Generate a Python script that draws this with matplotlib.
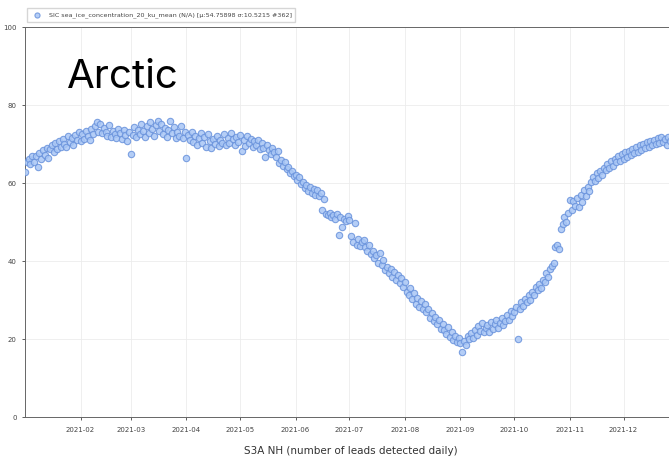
import numpy as np
import pandas as pd
import matplotlib
matplotlib.use("Agg")
import matplotlib.pyplot as plt
import matplotlib.dates as mdates

# daily mean sea ice concentration, one list per month
jan = [62.8, 65.5, 66.2, 64.8, 67.0, 65.3, 66.9, 64.2, 67.8, 66.1, 68.4, 67.2, 69.0, 66.5, 68.7, 69.8,
       67.9, 70.2, 68.8, 70.9, 69.4, 71.3, 70.1, 69.2, 72.0, 70.6, 71.5, 69.9, 72.4, 71.1, 73.2]
feb = [70.8, 72.6, 71.4, 73.5, 72.2, 71.0, 73.8, 72.5, 74.6, 75.6, 73.1, 75.2, 72.8, 74.2, 73.0, 72.1,
       74.8, 71.9, 73.4, 72.6, 71.7, 74.0, 72.9, 71.3, 73.6, 72.4, 70.9, 73.0]
mar = [67.5, 72.3, 74.4, 71.8, 73.6, 72.7, 75.1, 73.3, 71.9, 74.6, 72.8, 75.7, 73.8, 72.2, 74.9, 76.0,
       73.4, 75.3, 72.6, 74.1, 71.8, 73.7, 75.9, 72.9, 74.3, 71.5, 73.2, 72.0, 74.7, 71.6, 73.0]
apr = [66.5, 72.4, 71.2, 73.1, 70.6, 72.0, 69.8, 71.5, 72.8, 70.3, 71.9, 69.4, 72.5, 70.8, 68.9, 71.4,
       70.1, 72.2, 69.6, 71.0, 70.4, 72.6, 69.9, 71.7, 70.2, 72.9, 71.3, 69.7, 71.8, 70.5]
may = [72.3, 68.2, 71.0, 69.6, 72.1, 70.4, 71.4, 69.3, 70.8, 69.9, 71.2, 68.7, 70.3, 69.1, 66.7, 69.8,
       68.4, 67.5, 69.0, 67.9, 66.8, 68.3, 65.2, 66.0, 64.4, 65.3, 63.6, 64.1, 62.7, 63.2, 61.8]
jun = [62.2, 60.8, 61.5, 59.9, 60.4, 58.8, 59.5, 57.9, 59.0, 57.6, 58.5, 56.9, 58.2, 56.8, 57.4, 53.0,
       56.0, 52.2, 51.8, 52.3, 51.2, 51.9, 50.7, 52.1, 46.7, 51.4, 48.7, 50.9, 50.3, 51.6]
jul = [50.6, 46.4, 45.0, 49.8, 44.2, 45.6, 43.9, 44.8, 45.3, 43.5, 42.7, 44.1, 41.9, 42.6, 40.8, 41.5,
       39.6, 42.0, 38.9, 40.3, 37.8, 38.6, 36.9, 37.9, 35.8, 37.2, 35.1, 36.4, 34.3, 35.6, 33.4]
aug = [34.6, 32.0, 31.2, 33.1, 30.4, 31.7, 29.1, 30.6, 28.3, 29.7, 27.6, 28.9, 26.9, 27.8, 25.4, 26.7,
       24.6, 25.7, 23.8, 24.9, 22.7, 23.9, 22.2, 21.4, 23.1, 20.6, 21.8, 19.8, 20.9, 19.3, 20.3]
sep = [18.9, 16.6, 19.6, 18.4, 20.8, 19.9, 21.5, 20.3, 22.4, 21.1, 23.3, 22.0, 24.0, 21.7, 22.8, 23.6,
       21.9, 24.4, 22.6, 23.8, 24.9, 22.9, 24.2, 25.3, 23.5, 24.7, 26.1, 25.0, 27.3, 25.8]
oct_ = [26.9, 28.2, 19.9, 27.7, 29.4, 28.6, 30.3, 29.5, 31.2, 30.0, 32.1, 31.4, 33.3, 32.5, 34.0, 33.1,
        35.2, 34.6, 36.9, 35.8, 37.9, 38.8, 39.4, 43.6, 44.1, 43.0, 48.2, 49.6, 51.3, 50.1, 52.4]
nov = [55.6, 53.2, 55.4, 54.1, 56.2, 53.8, 57.0, 55.1, 58.2, 56.7, 59.1, 57.9, 60.3, 61.6, 60.6, 62.5,
       61.3, 63.2, 62.2, 64.0, 63.3, 64.9, 63.8, 65.6, 64.5, 66.2, 65.3, 66.9, 65.8, 67.4]
dec = [66.3, 67.9, 66.8, 68.3, 67.2, 68.8, 67.7, 69.2, 68.1, 69.7, 68.6, 70.1, 68.9, 70.5, 69.4, 70.8,
       69.7, 71.2, 70.0, 71.5, 70.3, 71.8, 70.6, 71.3, 69.9, 71.9, 70.7, 71.1]

sic = jan + feb + mar + apr + may + jun + jul + aug + sep + oct_ + nov + dec
days = pd.date_range("2021-01-01", periods=len(sic), freq="D")

label = "SIC sea_ice_concentration_20_ku_mean (N/A) [\u03bc:54.75898 \u03c3:10.5215 #362]"

fig = plt.figure(figsize=(6.69, 4.58), dpi=100)
ax = fig.add_axes([0.0374, 0.0895, 0.975, 0.851])

ax.scatter(days, sic, s=21, facecolor="#a8c6f5", edgecolor="#6a93dc",
           linewidths=0.8, alpha=0.85, label=label, zorder=3)

ax.set_ylim(0, 100)
ax.set_yticks([0, 20, 40, 60, 80, 100])
ax.set_xlim(pd.Timestamp("2021-01-01"), pd.Timestamp("2021-12-31"))
ax.xaxis.set_major_locator(mdates.MonthLocator(bymonth=range(2, 13)))
ax.xaxis.set_major_formatter(mdates.DateFormatter("%Y-%m"))

ax.tick_params(labelsize=5, colors="#444444", length=2.5, width=0.6)
ax.tick_params(axis="x", pad=5)
ax.grid(color="#ececec", lw=0.6, zorder=0)
for s in ax.spines.values():
    s.set_color("#666666")
    s.set_linewidth(0.7)

ax.set_xlabel("S3A NH (number of leads detected daily)", fontsize=7.5,
              color="#333333", labelpad=9)

leg = ax.legend(loc="lower left", bbox_to_anchor=(-0.002, 1.005), fontsize=4.6,
                frameon=True, fancybox=False, edgecolor="#cccccc",
                handletextpad=0.8, borderpad=0.6, markerscale=0.8)
for t in leg.get_texts():
    t.set_color("#444444")

fig.text(0.1, 0.807, "Arctic", fontsize=29, family=["Inter", "DejaVu Sans"],
         color="black", ha="left", va="baseline")

fig.savefig("out.png", dpi=100)
